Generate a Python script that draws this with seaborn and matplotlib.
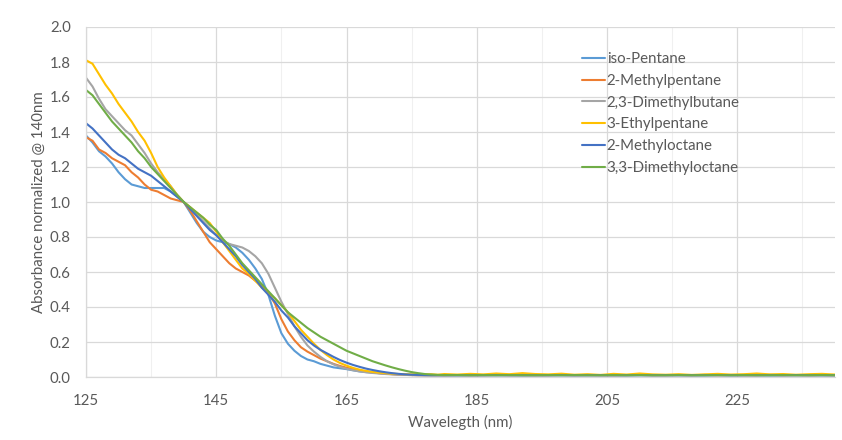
import matplotlib
matplotlib.use("Agg")
import matplotlib.pyplot as plt
import seaborn as sns
import pandas as pd
import numpy as np

# ---------------- data ----------------
wavelength_head = list(range(125, 181))          # 1 nm steps
wavelength_tail = list(range(182, 241, 2))       # 2 nm steps
wavelength = wavelength_head + wavelength_tail

series_names = ["iso-Pentane", "2-Methylpentane", "2,3-Dimethylbutane",
                "3-Ethylpentane", "2-Methyloctane", "3,3-Dimethyloctane"]

iso_pentane_head = [1.38, 1.34, 1.29, 1.26, 1.22, 1.17, 1.13, 1.10, 1.09, 1.08,
                    1.08, 1.08, 1.08, 1.06, 1.03, 1.00, 0.94, 0.88, 0.83, 0.80,
                    0.78, 0.77, 0.76, 0.74, 0.71, 0.67, 0.62, 0.56, 0.47, 0.35,
                    0.25, 0.19, 0.15, 0.12, 0.10, 0.09, 0.075, 0.065, 0.055, 0.05,
                    0.045, 0.038, 0.032, 0.028, 0.025, 0.022, 0.019, 0.017, 0.015, 0.013,
                    0.012, 0.011, 0.010, 0.010, 0.010, 0.010]
iso_pentane_tail = [0.010, 0.010, 0.011, 0.010, 0.010, 0.010, 0.011, 0.010, 0.010, 0.010,
                    0.010, 0.011, 0.010, 0.010, 0.010, 0.010, 0.011, 0.010, 0.010, 0.010,
                    0.010, 0.010, 0.011, 0.010, 0.010, 0.010, 0.010, 0.011, 0.010, 0.010]

methylpentane_head = [1.37, 1.35, 1.30, 1.28, 1.25, 1.23, 1.21, 1.17, 1.14, 1.10,
                      1.07, 1.06, 1.04, 1.02, 1.01, 1.00, 0.95, 0.89, 0.83, 0.77,
                      0.73, 0.69, 0.65, 0.62, 0.60, 0.58, 0.55, 0.52, 0.48, 0.42,
                      0.33, 0.26, 0.21, 0.17, 0.145, 0.125, 0.105, 0.09, 0.075, 0.063,
                      0.053, 0.045, 0.037, 0.031, 0.026, 0.022, 0.019, 0.016, 0.014, 0.012,
                      0.011, 0.010, 0.010, 0.010, 0.010, 0.010]
methylpentane_tail = [0.011, 0.010, 0.010, 0.012, 0.010, 0.011, 0.010, 0.010, 0.012, 0.010,
                      0.011, 0.010, 0.010, 0.011, 0.012, 0.010, 0.010, 0.011, 0.010, 0.012,
                      0.010, 0.011, 0.010, 0.010, 0.012, 0.010, 0.011, 0.010, 0.011, 0.010]

dimethylbutane_head = [1.71, 1.66, 1.59, 1.53, 1.49, 1.45, 1.41, 1.38, 1.33, 1.28,
                       1.22, 1.17, 1.13, 1.09, 1.04, 1.00, 0.97, 0.93, 0.89, 0.85,
                       0.81, 0.78, 0.76, 0.75, 0.74, 0.72, 0.69, 0.65, 0.59, 0.51,
                       0.43, 0.36, 0.29, 0.23, 0.18, 0.145, 0.115, 0.09, 0.072, 0.058,
                       0.047, 0.039, 0.032, 0.027, 0.023, 0.020, 0.017, 0.015, 0.013, 0.012,
                       0.011, 0.010, 0.010, 0.010, 0.010, 0.010]
dimethylbutane_tail = [0.010, 0.011, 0.010, 0.010, 0.012, 0.010, 0.010, 0.011, 0.010, 0.010,
                       0.012, 0.010, 0.011, 0.010, 0.010, 0.011, 0.010, 0.012, 0.010, 0.010,
                       0.011, 0.010, 0.010, 0.012, 0.010, 0.011, 0.010, 0.010, 0.011, 0.010]

ethylpentane_head = [1.81, 1.79, 1.73, 1.67, 1.62, 1.56, 1.51, 1.46, 1.40, 1.35,
                     1.28, 1.20, 1.14, 1.09, 1.04, 1.00, 0.97, 0.94, 0.91, 0.88,
                     0.83, 0.77, 0.72, 0.67, 0.62, 0.59, 0.55, 0.51, 0.48, 0.45,
                     0.41, 0.37, 0.32, 0.27, 0.23, 0.19, 0.155, 0.125, 0.10, 0.08,
                     0.065, 0.052, 0.042, 0.035, 0.029, 0.025, 0.022, 0.019, 0.017, 0.016,
                     0.015, 0.017, 0.014, 0.016, 0.013, 0.017]
ethylpentane_tail = [0.014, 0.018, 0.015, 0.020, 0.016, 0.022, 0.017, 0.015, 0.019, 0.013,
                     0.016, 0.012, 0.018, 0.014, 0.020, 0.015, 0.013, 0.016, 0.012, 0.015,
                     0.018, 0.014, 0.016, 0.020, 0.015, 0.017, 0.013, 0.016, 0.018, 0.014]

methyloctane_head = [1.45, 1.42, 1.38, 1.34, 1.30, 1.27, 1.25, 1.22, 1.19, 1.17,
                     1.15, 1.12, 1.09, 1.06, 1.03, 1.00, 0.96, 0.92, 0.88, 0.84,
                     0.81, 0.77, 0.73, 0.69, 0.64, 0.60, 0.56, 0.51, 0.47, 0.43,
                     0.38, 0.34, 0.29, 0.25, 0.21, 0.18, 0.155, 0.135, 0.115, 0.097,
                     0.082, 0.069, 0.058, 0.048, 0.040, 0.033, 0.027, 0.022, 0.018, 0.015,
                     0.013, 0.012, 0.011, 0.010, 0.010, 0.010]
methyloctane_tail = [0.010, 0.010, 0.010, 0.011, 0.010, 0.010, 0.010, 0.010, 0.011, 0.010,
                     0.010, 0.010, 0.010, 0.010, 0.011, 0.010, 0.010, 0.010, 0.010, 0.010,
                     0.011, 0.010, 0.010, 0.010, 0.010, 0.010, 0.011, 0.010, 0.010, 0.010]

dimethyloctane_head = [1.64, 1.61, 1.56, 1.51, 1.46, 1.42, 1.38, 1.34, 1.29, 1.25,
                       1.20, 1.16, 1.12, 1.08, 1.04, 1.00, 0.97, 0.94, 0.91, 0.87,
                       0.84, 0.79, 0.75, 0.70, 0.65, 0.61, 0.57, 0.53, 0.49, 0.45,
                       0.41, 0.37, 0.34, 0.31, 0.28, 0.255, 0.23, 0.21, 0.19, 0.17,
                       0.15, 0.135, 0.12, 0.105, 0.09, 0.078, 0.066, 0.055, 0.045, 0.036,
                       0.028, 0.022, 0.017, 0.014, 0.012, 0.011]
dimethyloctane_tail = [0.011, 0.010, 0.011, 0.010, 0.011, 0.010, 0.010, 0.011, 0.010, 0.011,
                       0.010, 0.010, 0.011, 0.010, 0.011, 0.010, 0.010, 0.011, 0.010, 0.010,
                       0.011, 0.010, 0.011, 0.010, 0.010, 0.011, 0.010, 0.010, 0.011, 0.010]

series_values = [iso_pentane_head + iso_pentane_tail,
                 methylpentane_head + methylpentane_tail,
                 dimethylbutane_head + dimethylbutane_tail,
                 ethylpentane_head + ethylpentane_tail,
                 methyloctane_head + methyloctane_tail,
                 dimethyloctane_head + dimethyloctane_tail]

x_ticks = [125, 145, 165, 185, 205, 225]
y_ticks = [0.0, 0.2, 0.4, 0.6, 0.8, 1.0, 1.2, 1.4, 1.6, 1.8, 2.0]

# ---------------- build long table ----------------
rows = []
for name, vals in zip(series_names, series_values):
    for w, v in zip(wavelength, vals):
        rows.append({"Wavelength": w, "Absorbance": v, "Compound": name})
df = pd.DataFrame(rows)

colors = ["#5B9BD5", "#ED7D31", "#A5A5A5", "#FFC000", "#4472C4", "#70AD47"]

sns.set_theme(style="white")
plt.rcParams["font.family"] = ["Lato", "DejaVu Sans"]

FS = 10.8

fig = plt.figure(figsize=(8.42, 4.40), dpi=100)
ax = fig.add_axes([86 / 842, 1 - 377 / 440, (835 - 86) / 842, (377 - 27) / 440])

sns.lineplot(data=df, x="Wavelength", y="Absorbance", hue="Compound",
             hue_order=series_names, palette=colors, linewidth=1.5,
             ax=ax, legend=True)

ax.set_xlim(125, 240)
ax.set_ylim(0, 2.0)
ax.set_xticks(x_ticks)
ax.set_yticks(y_ticks)
ax.set_yticklabels([f"{t:.1f}" for t in y_ticks])
ax.set_xticks([135, 155, 175, 195, 215, 235], minor=True)

ax.grid(True, which="major", color="#D9D9D9", linewidth=0.9)
ax.grid(True, which="minor", axis="x", color="#F0F0F0", linewidth=0.8)
ax.set_axisbelow(True)

for side in ["top", "right"]:
    ax.spines[side].set_visible(False)
ax.spines["left"].set_color("#D9D9D9")
ax.spines["bottom"].set_color("#D9D9D9")
ax.spines["left"].set_linewidth(0.9)
ax.spines["bottom"].set_linewidth(0.9)

ax.tick_params(axis="both", which="both", length=0, colors="#595959", labelsize=FS)
ax.tick_params(axis="x", pad=12)
ax.tick_params(axis="y", pad=11)

ax.set_xlabel("Wavelegth (nm)", color="#595959", fontsize=FS, labelpad=5)
ax.set_ylabel("Absorbance normalized @ 140nm", color="#595959", fontsize=FS, labelpad=3)

leg = ax.legend(loc="upper left", bbox_to_anchor=((576 - 86) / 749, (377 - 46) / 350),
                frameon=False, fontsize=FS, handlelength=1.55, handletextpad=0.1,
                labelspacing=0.52, borderaxespad=0, labelcolor="#595959")
for line in leg.get_lines():
    line.set_linewidth(1.5)

fig.savefig("out.png", dpi=100, facecolor="white")
